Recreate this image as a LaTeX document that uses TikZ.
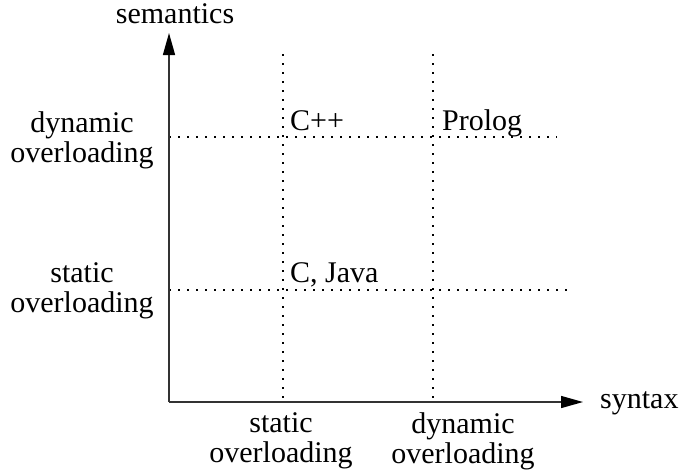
\documentclass[tikz,border=0pt]{standalone}
\usepackage{fontspec}
\setmainfont{Liberation Serif}
\usetikzlibrary{arrows.meta}
\begin{document}
\begin{tikzpicture}[x=1pt,y=-1pt,
  every node/.style={inner sep=0pt, font=\fontsize{30}{30}\selectfont},
  axisline/.style={draw=black!80, line width=1.4pt,
    -{Triangle[length=22pt,width=12pt,fill=black,color=black]}},
  gridline/.style={draw=black, line width=1.2pt, dash pattern=on 1.5pt off 7.5pt},
  twoline/.style={align=center, anchor=center},
  cell/.style={anchor=base west}]
  \useasboundingbox (0,0) rectangle (679,472);

  % origin and axis ends
  \coordinate (o) at (169,402);
  \coordinate (ytip) at (169,33);
  \coordinate (xtip) at (583,402);

  % grid lines for the four combinations
  \coordinate (v1top) at (283,54);
  \coordinate (v1bot) at (283,402);
  \coordinate (v2top) at (433,54);
  \coordinate (v2bot) at (433,402);
  \coordinate (h1l) at (169,137);
  \coordinate (h1r) at (557,137);
  \coordinate (h2l) at (169,290);
  \coordinate (h2r) at (567,290);
  \draw[gridline] (v1top) -- (v1bot);
  \draw[gridline] (v2top) -- (v2bot);
  \draw[gridline] (h1l) -- (h1r);
  \draw[gridline] (h2l) -- (h2r);

  % axes
  \draw[axisline] (o) -- (ytip);
  \draw[axisline] (o) -- (xtip);

  % axis titles
  \node[anchor=base] (sem) at (175,23) {semantics};
  \node[anchor=base west] (syn) at (600,408) {syntax};

  % semantic levels
  \node[twoline] (sdyn) at (82,140) {dynamic\\overloading};
  \node[twoline] (ssta) at (82,291) {static\\overloading};

  % syntactic levels
  \node[twoline] (xsta) at (281,441) {static\\overloading};
  \node[twoline] (xdyn) at (463,441) {dynamic\\overloading};

  % languages
  \node[cell] (cpp) at (290,130) {C++};
  \node[cell] (prolog) at (442,130) {Prolog};
  \node[cell] (cjava) at (290,282) {C, Java};
\end{tikzpicture}
\end{document}
